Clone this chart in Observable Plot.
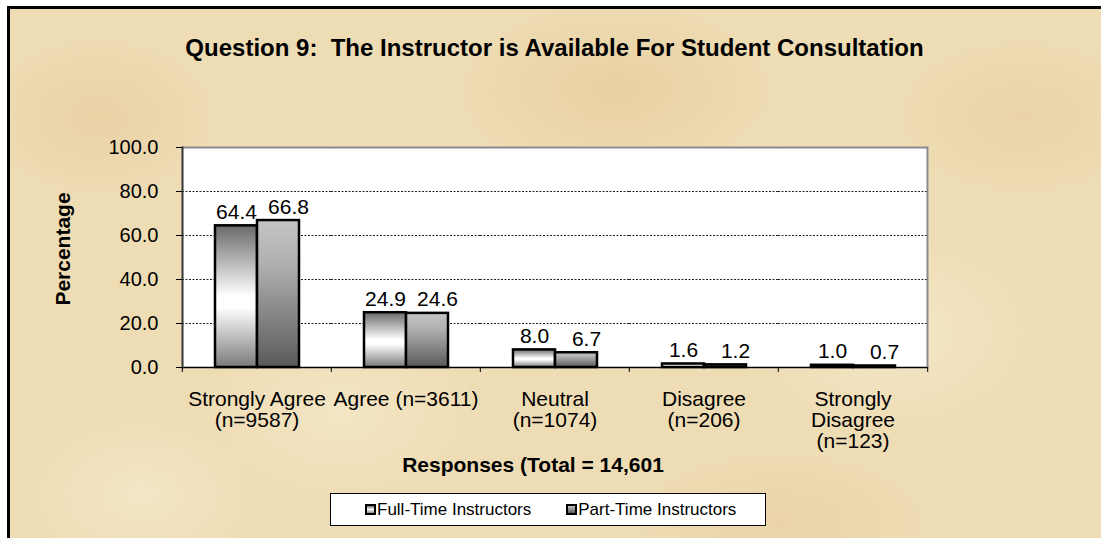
<!DOCTYPE html>
<html>
<head>
<meta charset="utf-8">
<script src="https://cdn.jsdelivr.net/npm/d3@7"></script>
<script src="https://cdn.jsdelivr.net/npm/@observablehq/plot@0.6"></script>
<style>
  html, body { margin: 0; padding: 0; background: #fff; overflow: hidden; }
  #wrap { position: relative; width: 1101px; height: 538px; overflow: hidden; background: #fff;
          font-family: Arial, "Liberation Sans", sans-serif; color: #000; }
  #paper { position: absolute; left: 7px; top: 6px; right: -10px; bottom: -10px;
           border-top: 3px solid #000; border-left: 3px solid #000;
           background-color: #eedcb4;
           background-image:
             radial-gradient(ellipse 120px 80px at 8% 20%, rgba(232,205,160,0.7), transparent),
             radial-gradient(ellipse 140px 90px at 30% 75%, rgba(245,232,200,0.8), transparent),
             radial-gradient(ellipse 160px 90px at 55% 15%, rgba(230,200,150,0.6), transparent),
             radial-gradient(ellipse 150px 100px at 80% 60%, rgba(246,234,205,0.8), transparent),
             radial-gradient(ellipse 130px 80px at 92% 20%, rgba(232,206,160,0.6), transparent),
             radial-gradient(ellipse 120px 80px at 12% 90%, rgba(246,234,205,0.7), transparent),
             radial-gradient(ellipse 150px 70px at 70% 95%, rgba(232,206,160,0.6), transparent); }
  #chart { position: absolute; left: 0; top: 0; }
  .title { position: absolute; left: 181px; width: 747px; top: 34px; line-height: 28px;
           text-align: center; font-weight: bold; font-size: 24px; white-space: pre; }
  .xtitle { position: absolute; left: 333px; width: 400px; top: 452px; line-height: 26px;
            text-align: center; font-weight: bold; font-size: 21px; white-space: nowrap; }
  .ytitle { position: absolute; left: 63px; top: 249px; font-weight: bold; font-size: 21px;
            white-space: nowrap; transform: translate(-50%, -50%) rotate(-90deg); }
  .legend { position: absolute; left: 330px; top: 493px; width: 434px; height: 31px;
            border: 1px solid #000; background: #fff; display: flex; align-items: center;
            font-size: 17px; box-sizing: content-box; }
  .legend .item { display: flex; align-items: center; white-space: nowrap; }
  .legend .sw { width: 7px; height: 7px; border: 2px solid #000; margin-right: 1px; }
</style>
</head>
<body>
<div id="wrap">
  <div id="paper"></div>
  <div id="chart"></div>
  <div class="title" id="title"></div>
  <div class="xtitle" id="xtitle"></div>
  <div class="ytitle" id="ytitle"></div>
  <div class="legend" id="legend"></div>
</div>
<script>
// ---- data ----
const titleText = "Question 9:  The Instructor is Available For Student Consultation";
const xTitle = "Responses (Total = 14,601";
const yTitle = "Percentage";
const categories = [
  "Strongly Agree\n(n=9587)",
  "Agree (n=3611)",
  "Neutral\n(n=1074)",
  "Disagree\n(n=206)",
  "Strongly\nDisagree\n(n=123)"
];
const seriesNames = ["Full-Time Instructors", "Part-Time Instructors"];
const fullTime = [64.4, 24.9, 8.0, 1.6, 1.0];
const partTime = [66.8, 24.6, 6.7, 1.2, 0.7];
const yTicks = [0, 20, 40, 60, 80, 100];

// ---- table ----
const rows = [];
categories.forEach((c, i) => {
  rows.push({category: c, series: seriesNames[0], value: fullTime[i]});
  rows.push({category: c, series: seriesNames[1], value: partTime[i]});
});
const ftRows = rows.filter(d => d.series === seriesNames[0]);
const ptRows = rows.filter(d => d.series === seriesNames[1]);

const W = 1101, H = 538, ML = 181, MR = 173, MT = 147, MB = 171;
const bw = (W - ML - MR) / categories.length;
const labelOpts = {fx: "category", x: "series", y: "value", text: d => d.value.toFixed(1),
  lineAnchor: "bottom", dy: -7, fontSize: 21, fill: "#000"};

const chart = Plot.plot({
  width: W, height: H,
  marginLeft: ML, marginRight: MR, marginTop: MT, marginBottom: MB,
  style: {background: "transparent", fontFamily: "Arial, 'Liberation Sans', sans-serif",
          fontSize: "20px", color: "#000", overflow: "visible"},
  fx: {domain: categories, padding: 0},
  x: {domain: seriesNames, paddingInner: 0, paddingOuter: 0.74, axis: null},
  y: {domain: [0, 100]},
  marks: [
    Plot.frame({fill: "white", stroke: "white", strokeWidth: 1.5}),
    Plot.gridY(yTicks.filter(t => t > 0 && t < 100), {stroke: "#222", strokeOpacity: 1, strokeDasharray: "2,1.5", strokeWidth: 1}),
    Plot.ruleY([100], {stroke: "#8a8a8a", strokeWidth: 2}),
    Plot.frame({anchor: "right", facetAnchor: "right", stroke: "#8a8a8a", strokeWidth: 2}),
    Plot.barY(ftRows, {fx: "category", x: "series", y: "value", fill: "url(#gradFT)", stroke: "#000", strokeWidth: 2.5}),
    Plot.barY(ptRows, {fx: "category", x: "series", y: "value", fill: "url(#gradPT)", stroke: "#000", strokeWidth: 2.5}),
    Plot.text(ftRows, labelOpts),
    Plot.text(ptRows, {...labelOpts, dx: 10}),
    Plot.ruleY([0], {stroke: "#000", strokeWidth: 1.5}),
    Plot.frame({anchor: "left", facetAnchor: "left", stroke: "#333", strokeWidth: 2}),
    Plot.axisY({ticks: yTicks, tickFormat: d => d.toFixed(1), tickSize: 6, tickPadding: 18,
      fontSize: 20, label: null, stroke: "#000"}),
    Plot.axisFx({anchor: "bottom", tickSize: 0, tickPadding: 24, fontSize: 21, lineHeight: 1.0, label: null}),
    Plot.axisFx({anchor: "bottom", tickSize: 5, tickFormat: () => "", dx: -bw / 2, label: null, stroke: "#000"}),
    Plot.axisFx({anchor: "bottom", tickSize: 5, tickFormat: () => "", dx: bw / 2, label: null, stroke: "#000",
      ticks: categories.slice(-1)})
  ]
});

// gradients for bars
const NS = "http://www.w3.org/2000/svg";
const defs = document.createElementNS(NS, "defs");
function grad(id, stops) {
  const g = document.createElementNS(NS, "linearGradient");
  g.setAttribute("id", id);
  g.setAttribute("x1", "0"); g.setAttribute("y1", "0");
  g.setAttribute("x2", "0"); g.setAttribute("y2", "1");
  stops.forEach(([o, c]) => {
    const s = document.createElementNS(NS, "stop");
    s.setAttribute("offset", o); s.setAttribute("stop-color", c);
    g.appendChild(s);
  });
  defs.appendChild(g);
}
grad("gradFT", [[0, "#6a6a6a"], [0.5, "#ffffff"], [0.58, "#ffffff"], [1, "#7a7a7a"]]);
grad("gradPT", [[0, "#c4c4c4"], [0.3, "#b0b0b0"], [1, "#5a5a5a"]]);
chart.insertBefore(defs, chart.firstChild);

document.getElementById("chart").appendChild(chart);

// texts
document.getElementById("title").textContent = titleText;
document.getElementById("xtitle").textContent = xTitle;
document.getElementById("ytitle").textContent = yTitle;

// legend
const legend = document.getElementById("legend");
const swFills = ["linear-gradient(#777, #fff 50%, #888)", "linear-gradient(#c4c4c4, #5a5a5a)"];
seriesNames.forEach((name, i) => {
  const item = document.createElement("div");
  item.className = "item";
  item.style.marginLeft = i === 0 ? "34px" : "35px";
  const sw = document.createElement("div");
  sw.className = "sw";
  sw.style.background = swFills[i];
  const t = document.createElement("span");
  t.textContent = name;
  item.appendChild(sw); item.appendChild(t);
  legend.appendChild(item);
});
</script>
</body>
</html>
